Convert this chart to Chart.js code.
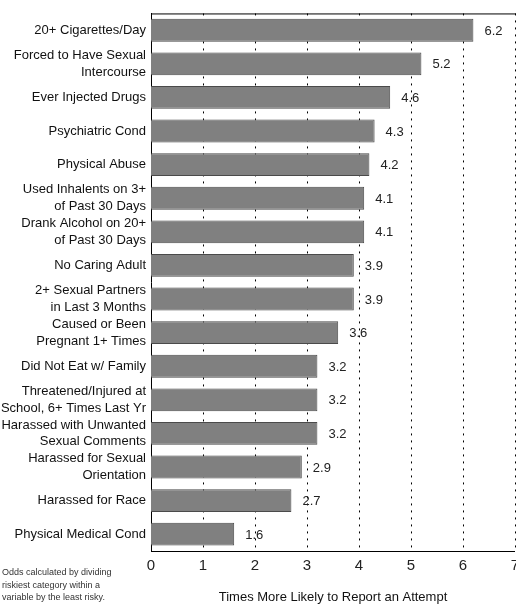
<!DOCTYPE html>
<html>
<head>
<meta charset="utf-8">
<script src="https://cdn.jsdelivr.net/npm/chart.js@4"></script>
<style>
  html, body { margin: 0; padding: 0; background: #fff; }
  #wrap { position: relative; width: 516px; height: 607px; }
  #note {
    position: absolute; left: 2px; top: 566px;
    font: 9px "Liberation Sans", Arial, sans-serif; line-height: 12.5px; color: #333;
  }
</style>
</head>
<body>
<div id="wrap">
  <canvas id="riskChart" width="516" height="607"></canvas>
  <div id="note">Odds calculated by dividing<br>riskiest category within a<br>variable by the least risky.</div>
</div>
<script>
const categories = [
  "20+ Cigarettes/Day",
  ["Forced to Have Sexual", "Intercourse"],
  "Ever Injected Drugs",
  "Psychiatric Cond",
  "Physical Abuse",
  ["Used Inhalents on 3+", "of Past 30 Days"],
  ["Drank Alcohol on 20+", "of Past 30 Days"],
  "No Caring Adult",
  ["2+ Sexual Partners", "in Last 3 Months"],
  ["Caused or Been", "Pregnant 1+ Times"],
  "Did Not Eat w/ Family",
  ["Threatened/Injured at", "School, 6+ Times Last Yr"],
  ["Harassed with Unwanted", "Sexual Comments"],
  ["Harassed for Sexual", "Orientation"],
  "Harassed for Race",
  "Physical Medical Cond"
];
const oddsRatio = [6.2, 5.2, 4.6, 4.3, 4.2, 4.1, 4.1, 3.9, 3.9, 3.6, 3.2, 3.2, 3.2, 2.9, 2.7, 1.6];
const xTicks = [0, 1, 2, 3, 4, 5, 6, 7];
const xTitle = "Times More Likely to Report an Attempt";

const FONT = "'Liberation Sans', Arial, sans-serif";

// value labels at the end of each bar, plus the frame line along the top
const barValues = {
  id: "barValues",
  afterDatasetsDraw(chart) {
    const ctx = chart.ctx;
    const meta = chart.getDatasetMeta(0);
    ctx.save();
    ctx.font = "13px " + FONT;
    ctx.fillStyle = "#222";
    ctx.textBaseline = "middle";
    ctx.textAlign = "left";
    meta.data.forEach((bar, i) => {
      ctx.fillText(oddsRatio[i].toFixed(1), bar.x + 11, bar.y + 1);
    });
    const a = chart.chartArea;
    ctx.strokeStyle = "#000";
    ctx.lineWidth = 1;
    ctx.beginPath();
    ctx.moveTo(a.left, a.top + 0.5);
    ctx.lineTo(a.right + 1, a.top + 0.5);
    ctx.stroke();
    ctx.restore();
  }
};

new Chart(document.getElementById("riskChart"), {
  type: "bar",
  data: {
    labels: categories,
    datasets: [{
      data: oddsRatio,
      backgroundColor: "#808080",
      borderColor: "#4a4a4a",
      borderWidth: 1,
      barPercentage: 0.68,
      categoryPercentage: 1
    }]
  },
  options: {
    indexAxis: "y",
    responsive: false,
    animation: false,
    layout: { padding: { top: 5, right: 1, left: 0, bottom: 0 } },
    plugins: {
      legend: { display: false },
      tooltip: { enabled: false }
    },
    scales: {
      x: {
        min: 0,
        max: 7,
        afterBuildTicks: s => { s.ticks = xTicks.map(v => ({ value: v })); },
        afterFit: s => { s.height = 56; s.paddingRight = 0; s.paddingLeft = 0; },
        grid: {
          color: "#000",
          lineWidth: ctx => (ctx.tick && ctx.tick.value > 0 ? 1 : 0),
          drawTicks: false
        },
        border: { display: true, color: "#000", width: 1, dash: [2, 5] },
        ticks: {
          padding: 6,
          color: "#222",
          font: { family: FONT, size: 15 }
        },
        title: {
          display: true,
          text: xTitle,
          color: "#111",
          font: { family: FONT, size: 13 },
          padding: { top: 0, bottom: 2 }
        }
      },
      y: {
        afterFit: s => { s.width = 151; },
        grid: { display: false, drawTicks: false },
        border: { display: true, color: "#000", width: 1 },
        ticks: {
          autoSkip: false,
          padding: 5,
          color: "#111",
          font: { family: FONT, size: 13, lineHeight: 1.3 }
        }
      }
    }
  },
  plugins: [barValues]
});
</script>
</body>
</html>
